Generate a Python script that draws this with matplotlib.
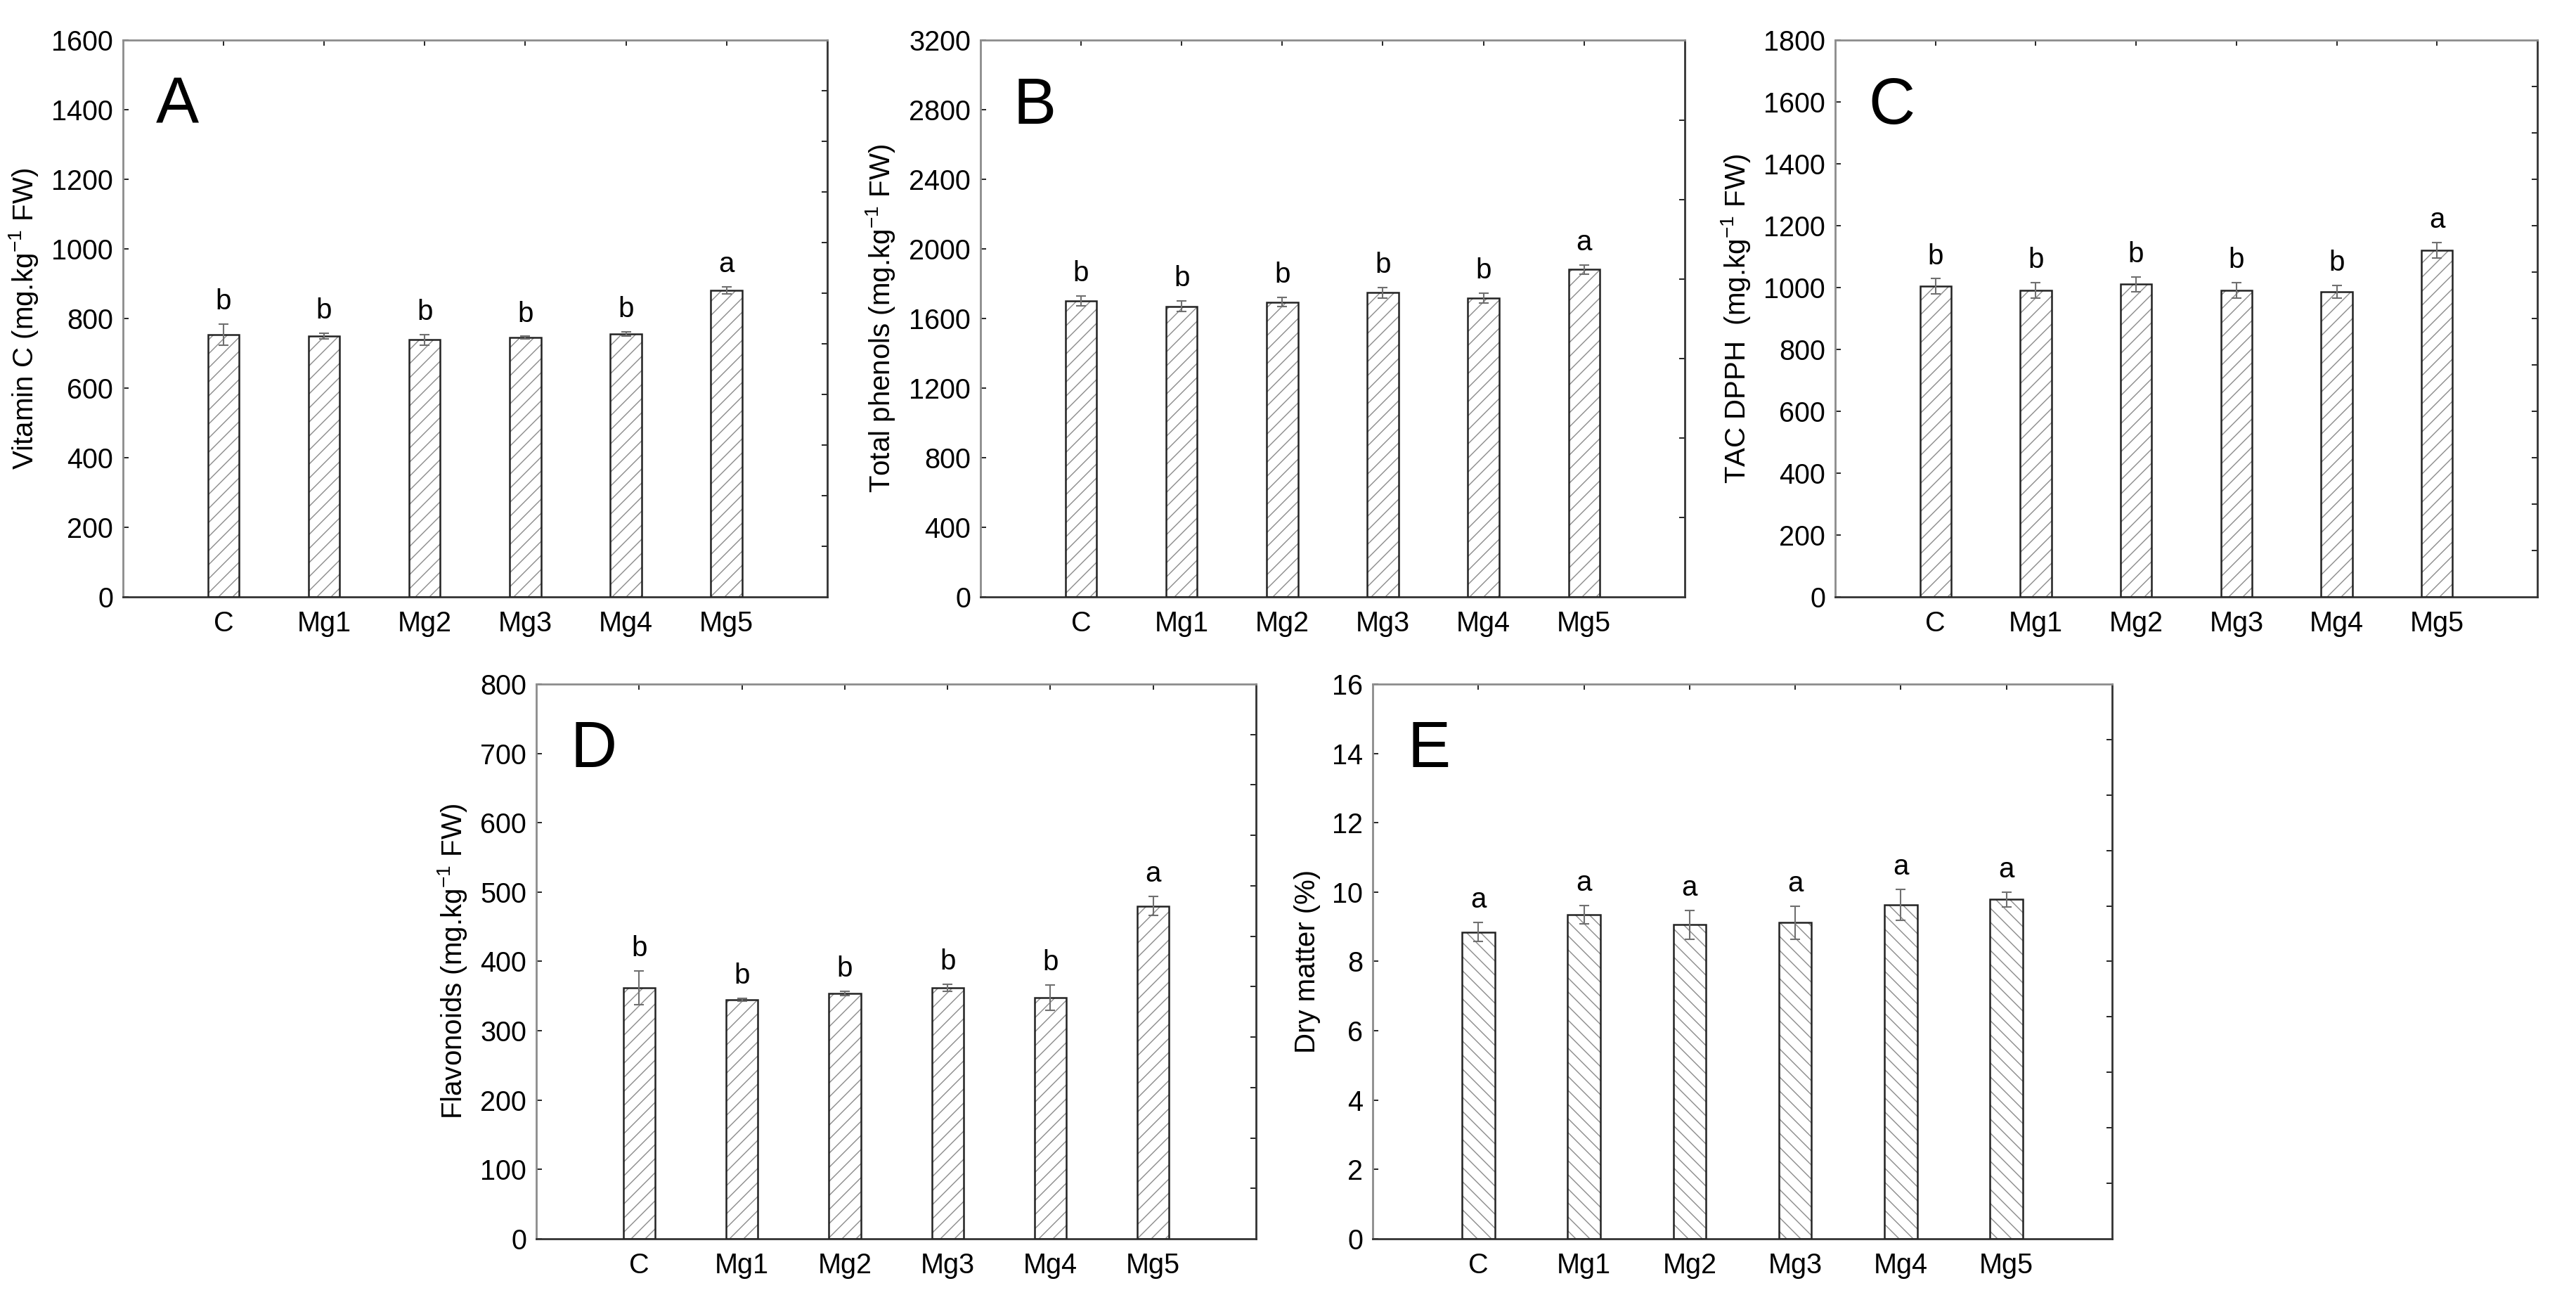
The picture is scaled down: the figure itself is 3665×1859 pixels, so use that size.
import numpy as np
import matplotlib
matplotlib.use('Agg')
import matplotlib.pyplot as plt
from matplotlib import rc

# treatments
groups = ['C', 'Mg1', 'Mg2', 'Mg3', 'Mg4', 'Mg5']

# A - vitamin C
vitc_mean = [754, 750, 739, 745, 756, 882]
vitc_err = [30, 9, 15, 4, 6, 10]
vitc_lett = ['b', 'b', 'b', 'b', 'b', 'a']

# B - total phenols
phen_mean = [1702, 1671, 1695, 1750, 1719, 1882]
phen_err = [30, 31, 27, 30, 29, 26]
phen_lett = ['b', 'b', 'b', 'b', 'b', 'a']

# C - TAC DPPH
tac_mean = [1004, 992, 1011, 992, 987, 1122]
tac_err = [25, 25, 23, 25, 20, 25]
tac_lett = ['b', 'b', 'b', 'b', 'b', 'a']

# D - flavonoids
flav_mean = [362, 345, 354, 362, 348, 480]
flav_err = [24, 2, 3, 5, 18, 14]
flav_lett = ['b', 'b', 'b', 'b', 'b', 'a']

# E - dry matter
dm_mean = [8.85, 9.35, 9.06, 9.12, 9.63, 9.79]
dm_err = [0.27, 0.26, 0.42, 0.48, 0.44, 0.21]
dm_lett = ['a', 'a', 'a', 'a', 'a', 'a']

# low dpi so the hatch comes out dense enough; sizes below are scaled by K
DPI = 60
K = 100 / DPI

rc('font', **{'family': 'sans-serif',
              'sans-serif': ['Liberation Sans', 'DejaVu Sans'],
              'size': 28 * K})
rc('mathtext', **{'default': 'regular'})
plt.rcParams['hatch.linewidth'] = 1.0 * K


def panel(fig, rect, mean, err, lett, ymax, step, n_right, ylabel, tag,
          hatch='/'):
    ax = fig.add_axes(rect)
    x = np.arange(1, len(groups) + 1)
    # hatched fill in grey, then black outline on top
    ax.bar(x, mean, width=0.31, color='white', edgecolor='#8a8a8a',
           hatch=hatch, linewidth=0, zorder=2)
    ax.bar(x, mean, width=0.31, color='none', edgecolor='#222222',
           linewidth=1.8 * K, zorder=3)
    ax.errorbar(x, mean, yerr=err, fmt='none', ecolor='#707070',
                elinewidth=1.5 * K, capsize=5 * K, capthick=1.5 * K,
                zorder=4)
    for xi, m, e, l in zip(x, mean, err, lett):
        ax.annotate(l, (xi, m + e), xytext=(0, 23 * K),
                    textcoords='offset points', ha='center', va='center',
                    fontsize=29 * K)

    ax.set_xlim(0, len(groups) + 1)
    ax.set_ylim(0, ymax)
    ax.set_xticks(x)
    ax.set_xticklabels(groups)
    ax.set_yticks(np.arange(0, ymax + step / 2, step))
    ax.tick_params(direction='in', length=6 * K, width=1.2 * K, top=True,
                   right=False, pad=10 * K, labelsize=28.5 * K)
    ax.tick_params(axis='x', pad=14 * K)
    ax.set_ylabel(ylabel, fontsize=29 * K, labelpad=12 * K)

    # right side ticks (own spacing, no labels)
    sec = ax.secondary_yaxis('right')
    sec.set_yticks(np.linspace(0, ymax, n_right + 1)[1:-1])
    sec.set_yticklabels([])
    sec.tick_params(direction='in', length=6 * K, width=1.2 * K)
    sec.spines['right'].set_visible(False)

    for s in ['top', 'left']:
        ax.spines[s].set_color('#8c8c8c')
        ax.spines[s].set_linewidth(2 * K)
    for s in ['right', 'bottom']:
        ax.spines[s].set_color('#333333')
        ax.spines[s].set_linewidth(2 * K)

    ax.text(0.047, 0.935, tag, transform=ax.transAxes, fontsize=66 * K,
            ha='left', va='top')
    return ax


def main():
    fig = plt.figure(figsize=(3665 / DPI, 1859 / DPI), dpi=DPI)

    panel(fig, [0.0477, 0.5433, 0.2734, 0.4258], vitc_mean, vitc_err,
          vitc_lett, 1600, 200, 11,
          'Vitamin C (mg.kg$^{-1}$ FW)', 'A')
    panel(fig, [0.3806, 0.5433, 0.2734, 0.4258], phen_mean, phen_err,
          phen_lett, 3200, 400, 7,
          'Total phenols (mg.kg$^{-1}$ FW)', 'B')
    panel(fig, [0.7124, 0.5433, 0.2726, 0.4258], tac_mean, tac_err,
          tac_lett, 1800, 200, 12,
          'TAC DPPH  (mg.kg$^{-1}$ FW)', 'C')
    panel(fig, [0.2082, 0.0522, 0.2794, 0.4244], flav_mean, flav_err,
          flav_lett, 800, 100, 11,
          'Flavonoids (mg.kg$^{-1}$ FW)', 'D')
    panel(fig, [0.5329, 0.0522, 0.2870, 0.4244], dm_mean, dm_err,
          dm_lett, 16, 2, 10,
          'Dry matter (%)', 'E', hatch='\\')

    fig.savefig('out.png', dpi=DPI, facecolor='white')


if __name__ == '__main__':
    main()
